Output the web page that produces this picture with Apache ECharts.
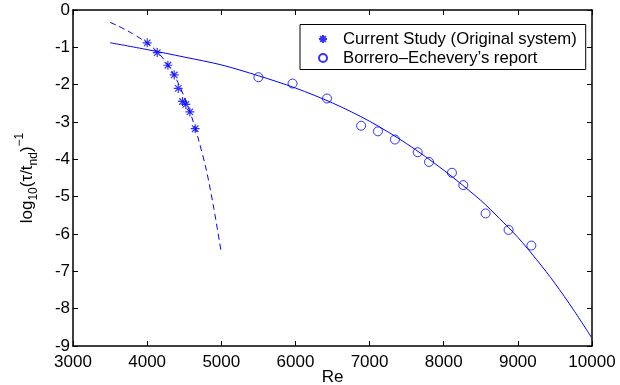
<!DOCTYPE html>
<html>
<head>
<meta charset="utf-8">
<script src="https://cdn.jsdelivr.net/npm/echarts@6/dist/echarts.min.js"></script>
<style>
  html, body { margin: 0; padding: 0; background: #fff; }
  #chart { width: 620px; height: 385px; }
</style>
</head>
<body>
<div id="chart"></div>
<script>
// Current study (original system): measured points
const reCurrent  = [4001, 4136, 4280, 4365, 4419, 4477, 4522, 4576, 4648];
const logCurrent = [-0.88, -1.14, -1.48, -1.74, -2.10, -2.45, -2.53, -2.73, -3.18];

// Borrero-Echevery's report: measured points
const reBorrero  = [5501, 5961, 6426, 6886, 7113, 7342, 7649, 7802, 8111, 8264, 8565, 8875, 9182];
const logBorrero = [-1.80, -1.97, -2.37, -3.10, -3.25, -3.47, -3.81, -4.07, -4.36, -4.69, -5.45, -5.89, -6.31];

// Fitted curve through the current study (dashed)
const reFitCurrent  = [3500, 3600, 3700, 3800, 3900, 4000, 4100, 4200, 4300, 4400, 4500, 4600, 4700, 4800, 4900, 5000];
const logFitCurrent = [-0.33, -0.42, -0.52, -0.63, -0.75, -0.88, -1.05, -1.26, -1.53, -1.88, -2.33, -2.86, -3.52, -4.30, -5.32, -6.50];

// Fitted curve through Borrero-Echevery's data (solid)
const reFitBorrero  = [3500, 4000, 4500, 5000, 5500, 6000, 6500, 7000, 7500, 8000, 8500, 8750, 9000, 9250, 9500, 9750, 10000];
const logFitBorrero = [-0.876, -1.06, -1.26, -1.47, -1.76, -2.09, -2.49, -2.98, -3.58, -4.29, -5.10, -5.58, -6.09, -6.68, -7.32, -8.03, -8.79];

// Axis ranges and tick spacing
const xRange = [3000, 10000], xStep = 1000;
const yRange = [-9, 0], yStep = 1;

const legendNames = ['Current Study (Original system)', 'Borrero\u2013Echevery\u2019s report'];

const FONT = 'Liberation Sans, Arial, Helvetica, sans-serif';
const BLUE = '#0000ff';
const zip = (xs, ys) => xs.map((x, i) => [x, ys[i]]);

const starPath = 'path://M0,-5L0,5M-5,0L5,0M-3.6,-3.6L3.6,3.6M3.6,-3.6L-3.6,3.6';

const axisLine = { show: true, onZero: false, lineStyle: { color: '#000', width: 1.5 } };
const tick = { show: true, inside: true, length: 5, lineStyle: { color: '#000', width: 1 } };
const plain = v => String(v);

const chart = echarts.init(document.getElementById('chart'), null, { renderer: 'canvas' });
chart.setOption({
  animation: false,
  backgroundColor: '#fff',
  textStyle: { fontFamily: FONT },
  grid: { left: 73, top: 10, right: 28, bottom: 39, containLabel: false, outerBoundsMode: 'none' },
  xAxis: [
    {
      type: 'value', position: 'bottom', min: xRange[0], max: xRange[1], interval: xStep,
      axisLine, axisTick: tick, splitLine: { show: false },
      axisLabel: { color: '#000', fontSize: 17, fontFamily: FONT, margin: 8, formatter: plain },
      name: 'Re', nameLocation: 'middle', nameGap: 23, nameMoveOverlap: false,
      nameTextStyle: { color: '#000', fontSize: 17, fontFamily: FONT }
    },
    {
      type: 'value', position: 'top', min: xRange[0], max: xRange[1], interval: xStep,
      axisLine, axisTick: tick, splitLine: { show: false }, axisLabel: { show: false }
    }
  ],
  yAxis: [
    {
      type: 'value', position: 'left', min: yRange[0], max: yRange[1], interval: yStep,
      axisLine, axisTick: tick, splitLine: { show: false },
      axisLabel: { color: '#000', fontSize: 17, fontFamily: FONT, margin: 3, formatter: plain },
      name: '{n|log}{s|10}{n|(\u03c4/t}{s|nd}{n|)}{p|\u22121}',
      nameLocation: 'middle', nameGap: 33, nameMoveOverlap: false,
      nameTextStyle: {
        color: '#000', fontFamily: FONT,
        rich: {
          n: { fontSize: 17, lineHeight: 26, fontFamily: FONT, color: '#000' },
          s: { fontSize: 12, lineHeight: 12, verticalAlign: 'bottom', fontFamily: FONT, color: '#000' },
          p: { fontSize: 12, lineHeight: 12, verticalAlign: 'top', fontFamily: FONT, color: '#000' }
        }
      }
    },
    {
      type: 'value', position: 'right', min: yRange[0], max: yRange[1], interval: yStep,
      axisLine, axisTick: tick, splitLine: { show: false }, axisLabel: { show: false }
    }
  ],
  legend: {
    data: legendNames,
    orient: 'vertical',
    left: 300, top: 24.5,
    padding: [6, 9, 3, 18],
    itemWidth: 30, itemHeight: 8, itemGap: 2,
    borderColor: '#000', borderWidth: 1, backgroundColor: '#fff',
    textStyle: { color: '#000', fontSize: 16.7, lineHeight: 17, fontFamily: FONT },
    selectedMode: false
  },
  series: [
    {
      name: 'fitCurrent', type: 'line', data: zip(reFitCurrent, logFitCurrent),
      showSymbol: false, symbol: 'none', smooth: 0.3,
      lineStyle: { color: BLUE, width: 1, type: [6, 4] }, z: 2
    },
    {
      name: 'fitBorrero', type: 'line', data: zip(reFitBorrero, logFitBorrero),
      showSymbol: false, symbol: 'none', smooth: 0.3,
      lineStyle: { color: BLUE, width: 1 }, z: 2
    },
    {
      name: legendNames[0], type: 'scatter', data: zip(reCurrent, logCurrent),
      symbol: starPath, symbolSize: 9,
      itemStyle: { color: 'rgba(0,0,0,0)', borderColor: BLUE, borderWidth: 1.2 }, z: 3
    },
    {
      name: legendNames[1], type: 'scatter', data: zip(reBorrero, logBorrero),
      symbol: 'circle', symbolSize: 9,
      itemStyle: { color: 'rgba(0,0,0,0)', borderColor: BLUE, borderWidth: 1 }, z: 3
    }
  ]
});
</script>
</body>
</html>
